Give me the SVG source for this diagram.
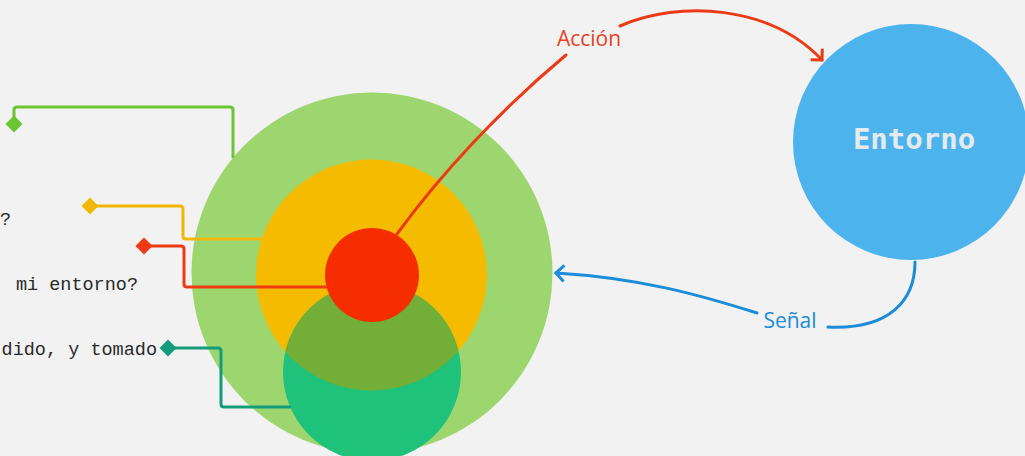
<svg xmlns="http://www.w3.org/2000/svg" width="1025" height="456" viewBox="0 0 1025 456">
  <defs>
    <style>
      .q { font-family: "Liberation Mono", "DejaVu Sans Mono", monospace; font-size: 18.5px; fill: #2a2a2a; }
      .lbl { font-family: "Open Sans", "Noto Sans", sans-serif; font-size: 21px; }
      .conn { fill: none; stroke-width: 3; stroke-linejoin: round; }
      .flow { fill: none; stroke-width: 3; stroke-linecap: round; }
    </style>
    <clipPath id="tealClip">
      <circle cx="372" cy="372" r="89"/>
    </clipPath>
    <marker id="arrRed" markerUnits="userSpaceOnUse" markerWidth="20" markerHeight="20" viewBox="-10 -10 20 20" refX="0" refY="0" orient="auto">
      <path d="M-8,-8 L0,0 L-8,8" fill="none" stroke="#ec3a16" stroke-width="3"/>
    </marker>
    <marker id="arrBlue" markerUnits="userSpaceOnUse" markerWidth="20" markerHeight="20" viewBox="-10 -10 20 20" refX="0" refY="0" orient="auto">
      <path d="M-8,-8 L0,0 L-8,8" fill="none" stroke="#1a8cd8" stroke-width="3"/>
    </marker>
  </defs>

  <rect width="1025" height="456" fill="#f2f2f2"/>

  <!-- Left texts (cut off by the picture edge) -->
  <g id="texts">
    <text class="q" x="11" y="225" text-anchor="end">?</text>
    <text class="q" x="138" y="290" text-anchor="end">mi entorno?</text>
    <text class="q" x="157" y="355" text-anchor="end">dido, y tomado</text>
  </g>

  <g id="outer">
    <circle cx="372" cy="273" r="180.5" fill="#9dd66f"/>
  </g>
  <g id="yellow">
    <circle cx="371.5" cy="275" r="115.5" fill="#f4bb00"/>
  </g>
  <g id="teal">
    <circle cx="372" cy="372" r="89" fill="#1fc27a"/>
    <circle cx="371.5" cy="275" r="115.5" fill="#72ae38" clip-path="url(#tealClip)"/>
  </g>
  <g id="core">
    <circle cx="372" cy="275" r="47" fill="#f52d00"/>
  </g>

  <g id="entorno">
    <circle cx="911" cy="142" r="118" fill="#4db3ec"/>
    <text x="914" y="149" text-anchor="middle" font-family="'DejaVu Sans Mono', 'Liberation Mono', monospace" font-weight="bold" font-size="29" fill="#e4eaee">Entorno</text>
  </g>

  <g id="connectors">
    <path class="conn" stroke="#6cc532" d="M14,124 V110 Q14,107 17,107 H230 Q233,107 233,110 V158"/>
    <rect x="8" y="118" width="12" height="12" fill="#6cc532" transform="rotate(45 14 124)"/>

    <path class="conn" stroke="#f2b704" d="M90,206 H180 Q183,206 183,209 V236 Q183,239 186,239 H262"/>
    <rect x="84" y="200" width="12" height="12" fill="#f2b704" transform="rotate(45 90 206)"/>

    <path class="conn" stroke="#ee3a12" d="M144,246 H181 Q184,246 184,249 V284 Q184,287 187,287 H327"/>
    <rect x="138" y="240" width="12" height="12" fill="#ee3a12" transform="rotate(45 144 246)"/>

    <path class="conn" stroke="#129c7a" d="M168,348 H218 Q221,348 221,351 V404 Q221,407 224,407 H291"/>
    <rect x="162" y="342" width="12" height="12" fill="#129c7a" transform="rotate(45 168 348)"/>

    <!-- Acción -->
    <path class="flow" stroke="#ec3a16" d="M397,234 C440,175 500,110 566,55"/>
    <path class="flow" stroke="#ec3a16" d="M620,26 C680,0 770,5 822,60" marker-end="url(#arrRed)"/>
    <text class="lbl" x="589" y="46" text-anchor="middle" fill="#e8401c">Acción</text>

    <!-- Señal -->
    <path class="flow" stroke="#1a8cd8" d="M915,262 C915,300 890,330 828,327"/>
    <path class="flow" stroke="#1a8cd8" d="M757,313 C700,295 640,278 556,273" marker-end="url(#arrBlue)"/>
    <text class="lbl" x="790" y="328" text-anchor="middle" fill="#1a8cd8">Señal</text>
  </g>
</svg>
